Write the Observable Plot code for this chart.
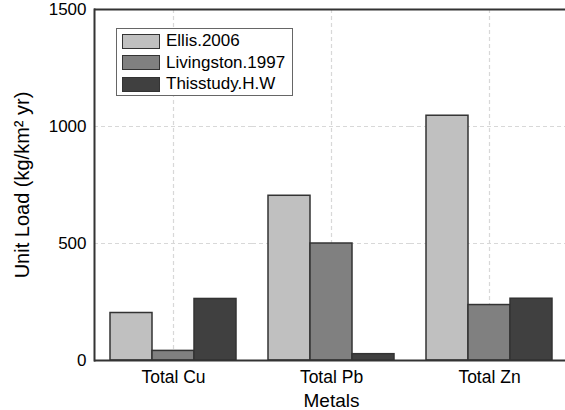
<!DOCTYPE html>
<html><head><meta charset="utf-8">
<script src="https://cdn.jsdelivr.net/npm/d3@7"></script>
<script src="https://cdn.jsdelivr.net/npm/@observablehq/plot@0.6"></script>
<style>
body{margin:0;background:#fff;font-family:"Liberation Sans",Arial,sans-serif}
#wrap{position:relative;width:565px;height:410px;overflow:hidden}
.legend{position:absolute;left:116px;top:28px;width:177px;height:68px;border:1px solid #666;background:#fff;box-sizing:border-box}
.row{position:absolute;left:5px;height:18px;display:flex;align-items:center;font-size:17px;color:#000;white-space:nowrap}
.sw{width:38px;height:15px;border:1.5px solid #333;box-sizing:border-box;margin-right:6px}
</style></head>
<body><div id="wrap"></div>
<script>
const metals = ["Total Cu", "Total Pb", "Total Zn"];
const series = ["Ellis.2006", "Livingston.1997", "Thisstudy.H.W"];
const ellis = [203, 704, 1046];
const livingston = [41, 500, 237];
const thisStudy = [263, 27, 264];
const colors = ["#c0c0c0", "#808080", "#404040"];
const yTicks = [0, 500, 1000, 1500];

const values = [ellis, livingston, thisStudy];
const data = [];
metals.forEach((m, i) => series.forEach((s, j) => data.push({metal: m, series: s, value: values[j][i]})));

const chart = Plot.plot({
  width: 565, height: 410,
  marginLeft: 94, marginRight: -3, marginTop: 9, marginBottom: 50,
  style: {fontFamily: '"Liberation Sans", Arial, sans-serif', color: "#000", background: "#fff"},
  fx: {domain: metals, padding: 0},
  x: {domain: series, paddingInner: 0, paddingOuter: 0.38, axis: null},
  y: {domain: [0, 1500]},
  color: {domain: series, range: colors},
  marks: [
    Plot.gridY([500, 1000], {stroke: "#d8d8d8", strokeOpacity: 1, strokeDasharray: "4,3", strokeWidth: 1.2}),
    Plot.gridFx({stroke: "#d8d8d8", strokeOpacity: 1, strokeDasharray: "4,3", strokeWidth: 1.2}),
    Plot.barY(data, {fx: "metal", x: "series", y: "value", fill: "series", stroke: "#333", strokeWidth: 1.5}),
    Plot.ruleY([0, 1500], {stroke: "#333", strokeWidth: 2}),
    Plot.frame({anchor: "left", facetAnchor: "left", stroke: "#333", strokeWidth: 2}),
    Plot.axisY({ticks: yTicks, tickSize: 0, tickPadding: 8, fontSize: 17, tickFormat: d => String(d), label: null}),
    Plot.axisY({ticks: [], tickSize: 0, fontSize: 20,
      label: "Unit Load (kg/km² yr)", labelArrow: "none", labelAnchor: "center", labelOffset: 80}),
    Plot.axisFx({anchor: "bottom", tickSize: 0, tickPadding: 10, fontSize: 17.5, label: null}),
    Plot.axisFx({anchor: "bottom", ticks: [], tickSize: 0, fontSize: 19,
      label: "Metals", labelAnchor: "center", labelOffset: 46})
  ]
});
const wrap = document.getElementById("wrap");
wrap.appendChild(chart);

const legend = document.createElement("div");
legend.className = "legend";
series.forEach((s, j) => {
  const row = document.createElement("div");
  row.className = "row";
  row.style.top = (3 + j * 21.5) + "px";
  const sw = document.createElement("div");
  sw.className = "sw";
  sw.style.background = colors[j];
  const t = document.createElement("span");
  t.textContent = s;
  row.appendChild(sw); row.appendChild(t);
  legend.appendChild(row);
});
wrap.appendChild(legend);
</script></body></html>
